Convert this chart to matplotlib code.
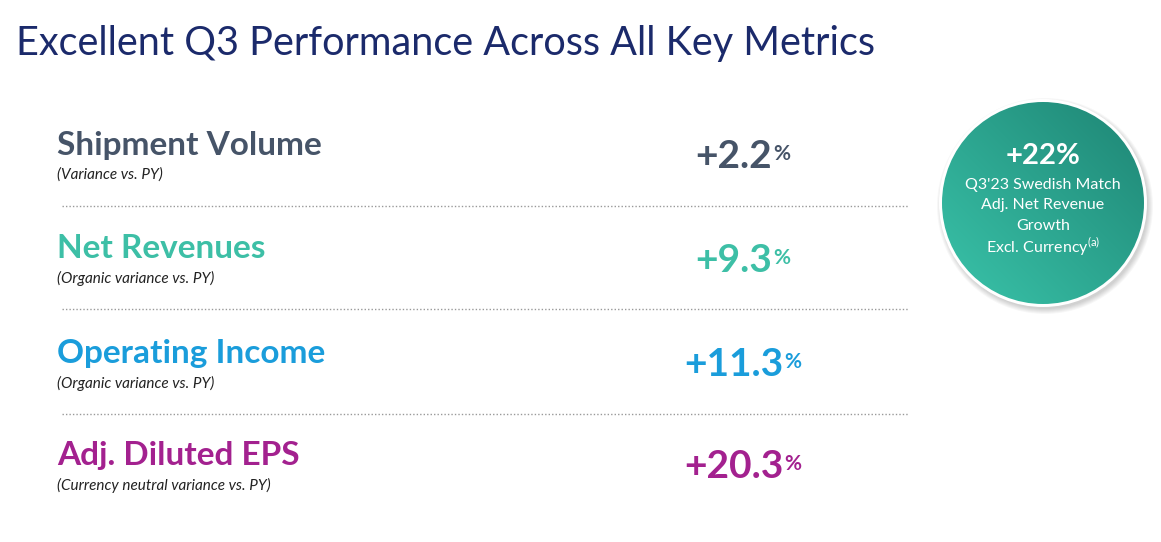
import matplotlib.pyplot as plt
import numpy as np
from matplotlib.patches import Circle

plt.rcParams['font.family'] = ['Lato', 'DejaVu Sans']

title = 'Excellent Q3 Performance Across All Key Metrics'
metrics = ['Shipment Volume', 'Net Revenues', 'Operating Income', 'Adj. Diluted EPS']
notes = ['(Variance vs. PY)', '(Organic variance vs. PY)', '(Organic variance vs. PY)',
         '(Currency neutral variance vs. PY)']
values = ['+2.2', '+9.3', '+11.3', '+20.3']
colors = ['#465468', '#3dbfa6', '#1a9ddb', '#a3218f']
badge_value = '+22%'
badge_lines = ["Q3'23 Swedish Match", 'Adj. Net Revenue', 'Growth', 'Excl. Currency$^{\\mathregular{(a)}}$']

fig = plt.figure(figsize=(11.61, 5.42), dpi=100)
ax = fig.add_axes([0, 0, 1, 1])
ax.set_xlim(0, 1161)
ax.set_ylim(542, 0)
ax.axis('off')

ax.text(16, 44, title, fontsize=28.5, color='#1b2a6b', va='center', ha='left')

row_y = [145, 248, 353, 455]
fig.canvas.draw()
r = fig.canvas.get_renderer()
for i, (m, n, v, c) in enumerate(zip(metrics, notes, values, colors)):
    y = row_y[i]
    ax.text(57, y, m, fontsize=24, fontweight='bold', color=c, va='center')
    ax.text(57, y + 30, n, fontsize=11, style='italic', color='#222222', va='center')
    t = ax.text(734, y + 12, v, fontsize=28, fontweight='bold', color=c, va='center', ha='center')
    bb = t.get_window_extent(r)
    ax.annotate('%', xy=(bb.x1 + 1, bb.y1 - 5), xycoords='figure pixels',
                fontsize=15, fontweight='bold', color=c, va='top', ha='left')
    if i < 3:
        ax.plot([62, 908], [y + 61, y + 61], ls=(0, (1, 1.5)), lw=1, color='#999999')

# badge
cx, cy, rad = 1043, 203, 101
for k in range(6):
    ax.add_patch(Circle((cx + 2, cy + 3), rad + 2 + k, color='black', alpha=0.03, lw=0))
ax.add_patch(Circle((cx, cy), rad + 3, color='white', lw=0))
gx, gy = np.meshgrid(np.linspace(0, 1, 200), np.linspace(0, 1, 200))
g = (gx + (1 - gy)) / 2
c1 = np.array([0x1e, 0x85, 0x74]) / 255
c2 = np.array([0x3a, 0xc4, 0xaa]) / 255
img = c2 + (c1 - c2) * g[..., None]
im = ax.imshow(img, extent=(cx - rad, cx + rad, cy + rad, cy - rad), zorder=3)
im.set_clip_path(Circle((cx, cy), rad, transform=ax.transData))
ax.set_xlim(0, 1161)
ax.set_ylim(542, 0)
ax.text(cx, 156, badge_value, fontsize=21, fontweight='bold', color='white', ha='center', va='center', zorder=4)
for j, line in enumerate(badge_lines):
    ax.text(cx, 185 + j * 20.5, line, fontsize=11.5, color='white', ha='center', va='center', zorder=4)

fig.savefig('out.png', dpi=100)
